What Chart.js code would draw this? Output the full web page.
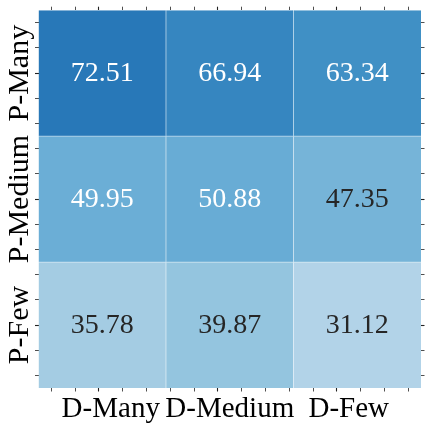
<!DOCTYPE html>
<html>
<head>
<meta charset="utf-8">
<script src="https://cdn.jsdelivr.net/npm/chart.js@4.4.1/dist/chart.umd.min.js"></script>
<style>
  html, body { margin: 0; padding: 0; background: #fff; }
  #chart-container { width: 428px; height: 428px; }
</style>
</head>
<body>
<div id="chart-container"><canvas id="heatmap"></canvas></div>
<script>
// dane
const colLabels = ["D-Many", "D-Medium", "D-Few"];
const rowLabels = ["P-Many", "P-Medium", "P-Few"];
const rowMany = [72.51, 66.94, 63.34];
const rowMedium = [49.95, 50.88, 47.35];
const rowFew = [35.78, 39.87, 31.12];
const rows = [rowMany, rowMedium, rowFew];
const vmin = 0;
const vmax = 100;

// matplotlib "Blues"
const blues = ["#f7fbff", "#deebf7", "#c6dbef", "#9ecae1", "#6baed6", "#4292c6", "#2171b5", "#08519c", "#08306b"];

function hexToRgb(h) {
  return [parseInt(h.slice(1, 3), 16), parseInt(h.slice(3, 5), 16), parseInt(h.slice(5, 7), 16)];
}

function cmap(v) {
  const t = Math.min(1, Math.max(0, (v - vmin) / (vmax - vmin)));
  const pos = t * (blues.length - 1);
  const i = Math.min(blues.length - 2, Math.floor(pos));
  const f = pos - i;
  const a = hexToRgb(blues[i]);
  const b = hexToRgb(blues[i + 1]);
  return a.map((c, k) => c + (b[k] - c) * f);
}

function rgbStr(c) {
  return "rgb(" + c.map((x) => Math.round(x)).join(",") + ")";
}

function mixWhite(c, w) {
  return c.map((x) => x + (255 - x) * w);
}

// jak w seaborn: jasny tekst na ciemnym polu
function textColor(v) {
  const lin = cmap(v).map((x) => {
    x = x / 255;
    return x <= 0.03928 ? x / 12.92 : Math.pow((x + 0.055) / 1.055, 2.4);
  });
  const lum = 0.2126 * lin[0] + 0.7152 * lin[1] + 0.0722 * lin[2];
  return lum > 0.408 ? "#262626" : "#ffffff";
}

const tickPositions = [];
for (let k = 0; k < 15; k++) tickPositions.push(-0.4 + k * 0.2);

function setTicks(scale) {
  scale.ticks = tickPositions.map((v) => ({ value: v }));
}

function isMajor(v) {
  return Math.abs(v - Math.round(v)) < 1e-6;
}

const fontFamily = "'Liberation Serif', 'DejaVu Serif', serif";
const labelSize = 29;
Chart.defaults.font.family = fontFamily;

const datasets = rows.map((vals, r) => ({
  label: rowLabels[r],
  data: vals.map(() => [r - 0.5, r + 0.5]),
  values: vals,
  xAxisID: "xb",
  yAxisID: "y",
  grouped: false,
  barPercentage: 1,
  categoryPercentage: 1,
  backgroundColor: vals.map((v) => rgbStr(cmap(v))),
  borderColor: vals.map((v) => rgbStr(mixWhite(cmap(v), 0.6))),
  borderSkipped: false,
  borderWidth: vals.map((v, j) => ({
    left: j > 0 ? 0.75 : 0,
    right: j < vals.length - 1 ? 0.75 : 0,
    top: r > 0 ? 0.75 : 0,
    bottom: r < rows.length - 1 ? 0.75 : 0,
  })),
}));

const annotations = {
  id: "annotations",
  afterDatasetsDraw(chart) {
    const ctx = chart.ctx;
    ctx.save();
    ctx.font = "28px " + fontFamily;
    ctx.textAlign = "center";
    ctx.textBaseline = "alphabetic";
    chart.data.datasets.forEach((ds, r) => {
      const meta = chart.getDatasetMeta(r);
      meta.data.forEach((bar, j) => {
        const v = ds.values[j];
        const cy = (bar.y + bar.base) / 2;
        ctx.fillStyle = textColor(v);
        ctx.fillText(v.toFixed(2), bar.x, cy + 7.5);
      });
    });
    ctx.restore();
  },
};

const rowTitles = {
  id: "rowTitles",
  afterDraw(chart) {
    const ctx = chart.ctx;
    const y = chart.scales.y;
    ctx.save();
    ctx.font = "30px " + fontFamily;
    ctx.fillStyle = "#000";
    ctx.textAlign = "center";
    ctx.textBaseline = "alphabetic";
    rowLabels.forEach((lab, r) => {
      ctx.save();
      ctx.translate(y.left + 27.5, y.getPixelForValue(r));
      ctx.rotate(-Math.PI / 2);
      ctx.fillText(lab, 0, 0);
      ctx.restore();
    });
    ctx.restore();
  },
};

const tickGrid = {
  drawOnChartArea: false,
  drawTicks: true,
  tickLength: 3.5,
  tickColor: "#222",
  tickWidth: (c) => (c.tick && isMajor(c.tick.value) ? 1.1 : 0.8),
};

new Chart(document.getElementById("heatmap"), {
  type: "bar",
  data: { labels: colLabels, datasets: datasets },
  options: {
    responsive: true,
    maintainAspectRatio: false,
    animation: false,
    layout: { padding: 0 },
    plugins: { legend: { display: false }, tooltip: { enabled: false } },
    scales: {
      xb: { type: "category", display: false, offset: true },
      x: {
        type: "linear",
        position: "bottom",
        min: -0.5,
        max: 2.5,
        afterBuildTicks: setTicks,
        afterFit: (s) => { s.height = 40; },
        border: { display: false },
        grid: tickGrid,
        ticks: {
          autoSkip: false,
          maxRotation: 0,
          minRotation: 0,
          padding: 0,
          color: "#000",
          font: { size: labelSize },
          callback: (v) => (isMajor(v) ? colLabels[Math.round(v)] : ""),
        },
      },
      x2: {
        type: "linear",
        position: "top",
        display: true,
        min: -0.5,
        max: 2.5,
        afterBuildTicks: setTicks,
        afterFit: (s) => { s.height = 6; },
        border: { display: false },
        grid: tickGrid,
        ticks: { autoSkip: false, maxRotation: 0, callback: () => "" },
      },
      y: {
        type: "linear",
        position: "left",
        min: -0.5,
        max: 2.5,
        reverse: true,
        afterBuildTicks: setTicks,
        afterFit: (s) => { s.width = 38.5; },
        border: { display: false },
        grid: tickGrid,
        ticks: { autoSkip: false, callback: () => "" },
      },
      y2: {
        type: "linear",
        position: "right",
        display: true,
        min: -0.5,
        max: 2.5,
        reverse: true,
        afterBuildTicks: setTicks,
        afterFit: (s) => { s.width = 7; },
        border: { display: false },
        grid: tickGrid,
        ticks: { autoSkip: false, callback: () => "" },
      },
    },
  },
  plugins: [annotations, rowTitles],
});
</script>
</body>
</html>
